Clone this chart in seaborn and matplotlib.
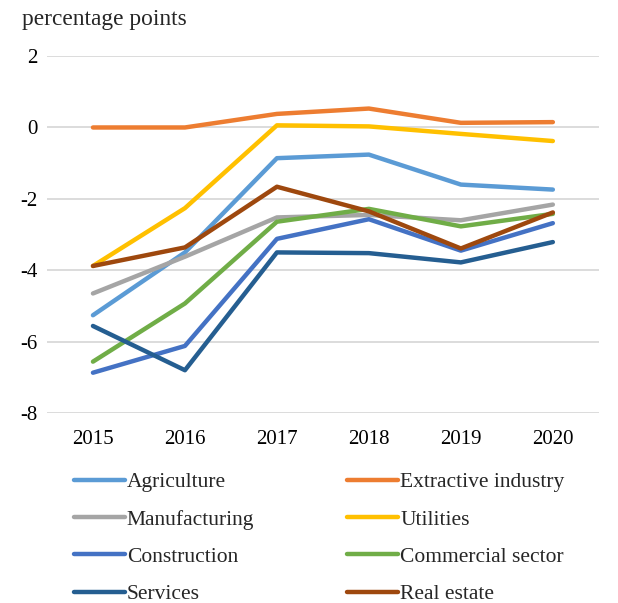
import matplotlib
matplotlib.use("Agg")
import matplotlib.pyplot as plt
import seaborn as sns
import pandas as pd
from matplotlib.lines import Line2D

years = [2015, 2016, 2017, 2018, 2019, 2020]
agriculture = [-5.26, -3.5, -0.86, -0.76, -1.6, -1.74]
extractive = [0.0, 0.0, 0.38, 0.53, 0.13, 0.15]
manufacturing = [-4.65, -3.62, -2.52, -2.45, -2.6, -2.16]
utilities = [-3.88, -2.26, 0.06, 0.03, -0.18, -0.38]
construction = [-6.87, -6.12, -3.12, -2.57, -3.45, -2.68]
commercial = [-6.56, -4.93, -2.64, -2.28, -2.77, -2.42]
services = [-5.56, -6.8, -3.5, -3.52, -3.78, -3.21]
real_estate = [-3.88, -3.36, -1.66, -2.35, -3.39, -2.38]

series = {
    "Agriculture": agriculture,
    "Extractive industry": extractive,
    "Manufacturing": manufacturing,
    "Utilities": utilities,
    "Construction": construction,
    "Commercial sector": commercial,
    "Services": services,
    "Real estate": real_estate,
}
colors = {
    "Agriculture": "#5B9BD5",
    "Extractive industry": "#ED7D31",
    "Manufacturing": "#A5A5A5",
    "Utilities": "#FFC000",
    "Construction": "#4472C4",
    "Commercial sector": "#70AD47",
    "Services": "#255E91",
    "Real estate": "#9E480E",
}

rows = []
for name, vals in series.items():
    for y, v in zip(years, vals):
        rows.append({"year": y, "value": v, "sector": name})
df = pd.DataFrame(rows)

sns.set_style("white")
plt.rcParams["font.family"] = ["Liberation Serif", "DejaVu Serif"]

fig = plt.figure(figsize=(6.18, 6.03), dpi=100)
ax = fig.add_axes([0.076, 0.315, 0.893, 0.592])

sns.lineplot(data=df, x="year", y="value", hue="sector", palette=colors,
             hue_order=list(series.keys()), linewidth=3.2, ax=ax, legend=False,
             zorder=3)

ax.set_xlim(2014.5, 2020.5)
ax.set_ylim(-8, 2)
ax.set_yticks([-8, -6, -4, -2, 0, 2])
ax.set_yticklabels(["-8", "-6", "-4", "-2", "0", "2"])
ax.set_xticks(years)
ax.set_xticklabels([str(y) for y in years])
ax.grid(axis="y", color="#d9d9d9", linewidth=1.3, zorder=0)
ax.grid(axis="x", visible=False)
for s in ax.spines.values():
    s.set_visible(False)
ax.tick_params(axis="both", length=0, labelsize=15, colors="black")
ax.tick_params(axis="y", pad=7)
ax.tick_params(axis="x", pad=12)
ax.set_xlabel("")
ax.set_ylabel("")

fig.text(0.036, 0.968, "percentage points", fontsize=16.8, ha="left", va="center")

order = ["Agriculture", "Manufacturing", "Construction", "Services",
         "Extractive industry", "Utilities", "Commercial sector", "Real estate"]
handles = [Line2D([0], [0], color=colors[n], linewidth=3.2) for n in order]
fig.legend(handles, order, ncol=2, loc="upper left", bbox_to_anchor=(0.105, 0.231),
           frameon=False, fontsize=15.5, handlelength=2.37, handletextpad=0.1,
           columnspacing=4.33, labelspacing=0.8, borderaxespad=0)

fig.savefig("out.png", dpi=100)
